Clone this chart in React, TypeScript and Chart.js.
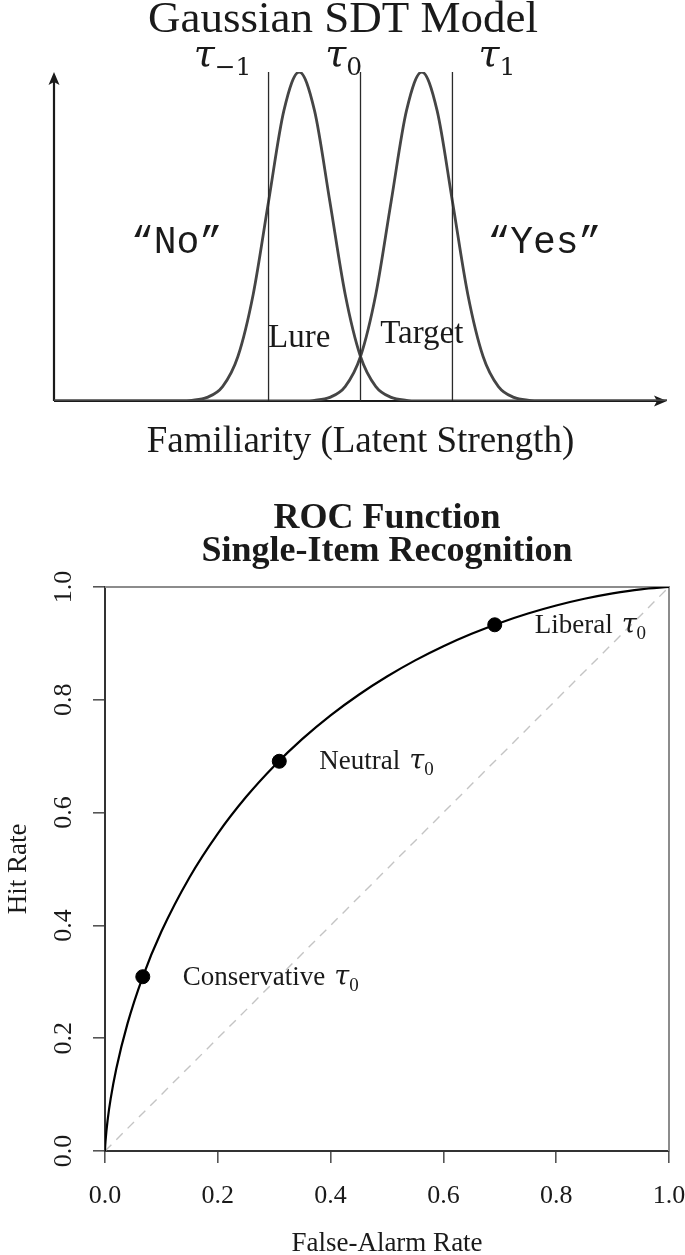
import React, { useEffect, useRef } from "react";
import { Chart, registerables } from "chart.js";

Chart.register(...registerables);

const SERIF = '"Liberation Serif", "Times New Roman", serif';
const GREEK = '"DejaVu Serif", "Liberation Serif", serif';
const MONO = '"Liberation Mono", "DejaVu Sans Mono", monospace';
const INK = "#1a1a1a";

// ---------------- Top panel: Gaussian SDT model ----------------
const sdtTitle = "Gaussian SDT Model";
const sdtXLabel = "Familiarity (Latent Strength)";
const familiarity = [
  -8, -7.5, -7, -6.5, -6, -5.5, -5, -4.5, -4, -3.5, -3, -2.5, -2, -1.5, -1, -0.5,
  0, 0.5, 1, 1.5, 2, 2.5, 3, 3.5, 4, 4.5, 5, 5.5, 6, 6.5, 7, 7.5, 8, 8.5, 9, 9.5,
  10, 10.5, 11, 11.5, 12,
];
const lureDensity = [
  0, 0, 0, 0, 0, 0, 0, 0, 0.0003, 0.0022, 0.0111, 0.0439, 0.1353, 0.3247, 0.6065, 0.8825,
  1, 0.8825, 0.6065, 0.3247, 0.1353, 0.0439, 0.0111, 0.0022, 0.0003, 0, 0, 0, 0, 0, 0, 0,
  0, 0, 0, 0, 0, 0, 0, 0, 0,
];
const targetDensity = [
  0, 0, 0, 0, 0, 0, 0, 0, 0, 0, 0, 0, 0, 0, 0, 0,
  0.0003, 0.0022, 0.0111, 0.0439, 0.1353, 0.3247, 0.6065, 0.8825, 1, 0.8825, 0.6065, 0.3247,
  0.1353, 0.0439, 0.0111, 0.0022, 0.0003, 0, 0, 0, 0, 0, 0, 0, 0,
];
const criteria = [-1, 2, 5];
const criterionSubscripts = ["\u22121", "0", "1"];
const criterionLabelX = [-2.5, 1.45, 6.45];
const responseLabels = ["\u201CNo\u201D", "\u201CYes\u201D"];
const responseLabelX = [-4, 8];
const distributionLabels = ["Lure", "Target"];
const distributionLabelX = [0, 4];

// ---------------- Bottom panel: ROC function ----------------
const rocTitle = ["ROC Function", "Single-Item Recognition"];
const rocXLabel = "False-Alarm Rate";
const rocYLabel = "Hit Rate";
const rocFalseAlarm = [
  0, 0.0001, 0.001, 0.005, 0.01, 0.02, 0.04, 0.0668, 0.1, 0.15, 0.2, 0.25, 0.3, 0.35,
  0.4, 0.45, 0.5, 0.55, 0.6, 0.65, 0.7, 0.75, 0.8, 0.85, 0.9, 0.95, 1,
];
const rocHit = [
  0, 0.0033, 0.0183, 0.0575, 0.0924, 0.146, 0.2263, 0.3085, 0.3891, 0.4855, 0.5629, 0.6276,
  0.6828, 0.7306, 0.7724, 0.809, 0.8413, 0.8699, 0.895, 0.917, 0.9363, 0.953, 0.9672,
  0.9791, 0.9887, 0.9959, 1,
];
const criterionFA = [0.067, 0.309, 0.691];
const criterionHit = [0.309, 0.691, 0.933];
const criterionNames = ["Conservative", "Neutral", "Liberal"];
const axisTicks = [0, 0.2, 0.4, 0.6, 0.8, 1.0];
const chanceLine = [0, 1];

type TauStyle = { size: number; tauSize: number; subSize: number; subFont: string; drop: number; gap: number };

function drawTau(ctx: CanvasRenderingContext2D, prefix: string, sub: string, x: number, base: number,
  st: TauStyle, measureOnly = false): number {
  let cx = x;
  if (prefix) {
    ctx.font = `${st.size}px ${SERIF}`;
    if (!measureOnly) ctx.fillText(prefix, cx, base);
    cx += ctx.measureText(prefix).width + st.gap;
  }
  ctx.font = `italic ${st.tauSize}px ${GREEK}`;
  if (!measureOnly) ctx.fillText("\u03C4", cx, base);
  cx += ctx.measureText("\u03C4").width;
  ctx.font = `${st.subSize}px ${st.subFont}`;
  if (!measureOnly) ctx.fillText(sub, cx, base + st.drop);
  cx += ctx.measureText(sub).width;
  return cx - x;
}

const topTau: TauStyle = { size: 38, tauSize: 38, subSize: 25, subFont: GREEK, drop: 9, gap: 0 };
const rocTau: TauStyle = { size: 27, tauSize: 27, subSize: 19, subFont: SERIF, drop: 6, gap: 9 };

const sdtDecor = {
  id: "sdtDecor",
  beforeDatasetsDraw(chart: any) {
    const { ctx, scales } = chart;
    const xs = scales.x, ys = scales.y;
    const x0 = xs.getPixelForValue(familiarity[0]);
    const x1 = xs.getPixelForValue(familiarity[familiarity.length - 1]);
    const y0 = ys.getPixelForValue(0);
    const y1 = ys.getPixelForValue(1);
    ctx.save();
    ctx.strokeStyle = INK;
    ctx.fillStyle = INK;
    ctx.lineWidth = 2.2;
    ctx.beginPath();
    ctx.moveTo(x0, y0);
    ctx.lineTo(x1 - 6, y0);
    ctx.moveTo(x0, y0);
    ctx.lineTo(x0, y1 + 6);
    ctx.stroke();
    ctx.beginPath();
    ctx.moveTo(x1, y0);
    ctx.lineTo(x1 - 13, y0 - 5.5);
    ctx.lineTo(x1 - 10, y0);
    ctx.lineTo(x1 - 13, y0 + 5.5);
    ctx.closePath();
    ctx.fill();
    ctx.beginPath();
    ctx.moveTo(x0, y1);
    ctx.lineTo(x0 - 5.5, y1 + 13);
    ctx.lineTo(x0, y1 + 10);
    ctx.lineTo(x0 + 5.5, y1 + 13);
    ctx.closePath();
    ctx.fill();
    ctx.restore();
  },
  afterDraw(chart: any) {
    const { ctx, scales } = chart;
    const xs = scales.x, ys = scales.y;
    ctx.save();
    ctx.fillStyle = INK;
    ctx.textBaseline = "alphabetic";
    ctx.textAlign = "center";
    ctx.font = `45px ${SERIF}`;
    ctx.fillText(sdtTitle, 343, 32);
    ctx.textAlign = "left";
    criteria.forEach((_, i) => {
      const w = drawTau(ctx, "", criterionSubscripts[i], 0, 0, topTau, true);
      const cx = xs.getPixelForValue(criterionLabelX[i]);
      drawTau(ctx, "", criterionSubscripts[i], cx - w / 2, 66, topTau);
    });
    ctx.textAlign = "center";
    ctx.font = `38px ${MONO}`;
    responseLabels.forEach((t, i) => {
      ctx.fillText(t, xs.getPixelForValue(responseLabelX[i]), ys.getPixelForValue(0.45));
    });
    ctx.font = `33px ${SERIF}`;
    distributionLabels.forEach((t, i) => {
      ctx.fillText(t, xs.getPixelForValue(distributionLabelX[i]), ys.getPixelForValue(i === 0 ? 0.165 : 0.177));
    });
    ctx.font = `37px ${SERIF}`;
    ctx.fillText(sdtXLabel, xs.getPixelForValue(2), 452);
    ctx.restore();
  },
};

const rocDecor = {
  id: "rocDecor",
  beforeDatasetsDraw(chart: any) {
    const { ctx, chartArea: a } = chart;
    ctx.save();
    ctx.strokeStyle = "#8c8c8c";
    ctx.lineWidth = 2;
    ctx.beginPath();
    ctx.moveTo(a.left, a.top);
    ctx.lineTo(a.right, a.top);
    ctx.lineTo(a.right, a.bottom);
    ctx.stroke();
    ctx.restore();
  },
  afterDraw(chart: any) {
    const { ctx, chartArea: a, scales } = chart;
    const xs = scales.x, ys = scales.y;
    const cx = (a.left + a.right) / 2;
    const cy = (a.top + a.bottom) / 2;
    ctx.save();
    ctx.fillStyle = INK;
    ctx.textBaseline = "alphabetic";
    ctx.textAlign = "center";
    ctx.font = `bold 36px ${SERIF}`;
    ctx.fillText(rocTitle[0], cx, 58);
    ctx.fillText(rocTitle[1], cx, 91);
    ctx.font = `26px ${SERIF}`;
    axisTicks.forEach((v) => {
      ctx.fillText(v.toFixed(1), xs.getPixelForValue(v), 733);
    });
    ctx.font = `27px ${SERIF}`;
    ctx.fillText(rocXLabel, cx, 781);
    ctx.font = `26px ${SERIF}`;
    axisTicks.forEach((v) => {
      ctx.save();
      ctx.translate(71, ys.getPixelForValue(v));
      ctx.rotate(-Math.PI / 2);
      ctx.fillText(v.toFixed(1), 0, 0);
      ctx.restore();
    });
    ctx.font = `27px ${SERIF}`;
    ctx.save();
    ctx.translate(26, cy);
    ctx.rotate(-Math.PI / 2);
    ctx.fillText(rocYLabel, 0, 0);
    ctx.restore();
    ctx.textAlign = "left";
    criterionNames.forEach((n, i) => {
      const px = xs.getPixelForValue(criterionFA[i]);
      const py = ys.getPixelForValue(criterionHit[i]);
      drawTau(ctx, n, "0", px + 40, py + 8, rocTau);
    });
    ctx.restore();
  },
};

export default function App() {
  const topRef = useRef<HTMLCanvasElement>(null);
  const botRef = useRef<HTMLCanvasElement>(null);

  useEffect(() => {
    const curve = (ys: number[]) => familiarity.map((x, i) => ({ x, y: ys[i] }));
    const vline = (c: number) => [{ x: c, y: 0 }, { x: c, y: 1 }];
    const top = new Chart(topRef.current as HTMLCanvasElement, {
      type: "line",
      data: {
        datasets: [
          ...criteria.map((c) => ({
            data: vline(c), borderColor: "#2a2a2a", borderWidth: 1.3, pointRadius: 0, fill: false,
          })),
          { data: curve(lureDensity), borderColor: "#454545", borderWidth: 2.8, pointRadius: 0, fill: false, cubicInterpolationMode: "monotone" },
          { data: curve(targetDensity), borderColor: "#454545", borderWidth: 2.8, pointRadius: 0, fill: false, cubicInterpolationMode: "monotone" },
        ] as any,
      },
      options: {
        responsive: false,
        animation: false,
        devicePixelRatio: 1,
        events: [],
        layout: { padding: { left: 54, right: 18, top: 72, bottom: 69 } },
        plugins: { legend: { display: false }, tooltip: { enabled: false }, title: { display: false } },
        scales: {
          x: { type: "linear", min: familiarity[0], max: familiarity[familiarity.length - 1], display: false },
          y: { type: "linear", min: 0, max: 1, display: false },
        },
      },
      plugins: [sdtDecor],
    });

    const bot = new Chart(botRef.current as HTMLCanvasElement, {
      type: "scatter",
      data: {
        datasets: [
          {
            data: criterionFA.map((x, i) => ({ x, y: criterionHit[i] })),
            pointRadius: 7, pointBackgroundColor: "#000", pointBorderColor: "#000", showLine: false,
          },
          {
            data: rocFalseAlarm.map((x, i) => ({ x, y: rocHit[i] })),
            showLine: true, borderColor: "#000", borderWidth: 2.2, pointRadius: 0, cubicInterpolationMode: "monotone",
          },
          {
            data: chanceLine.map((v) => ({ x: v, y: v })),
            showLine: true, borderColor: "#c4c4c4", borderWidth: 1.4, borderDash: [9, 7], pointRadius: 0,
          },
        ] as any,
      },
      options: {
        responsive: false,
        animation: false,
        devicePixelRatio: 1,
        events: [],
        layout: { padding: { left: 0, right: 16, top: 117, bottom: 0 } },
        plugins: { legend: { display: false }, tooltip: { enabled: false }, title: { display: false } },
        scales: {
          x: {
            type: "linear", min: 0, max: 1,
            afterBuildTicks: (s: any) => { s.ticks = axisTicks.map((v) => ({ value: v })); },
            ticks: { display: false },
            grid: { drawOnChartArea: false, drawTicks: true, tickLength: 12, color: "#555", lineWidth: 1.6 },
            border: { display: true, color: "#333", width: 2 },
            afterFit: (s: any) => { s.height = 104; },
          },
          y: {
            type: "linear", min: 0, max: 1,
            afterBuildTicks: (s: any) => { s.ticks = axisTicks.map((v) => ({ value: v })); },
            ticks: { display: false },
            grid: { drawOnChartArea: false, drawTicks: true, tickLength: 12, color: "#555", lineWidth: 1.6 },
            border: { display: true, color: "#333", width: 2 },
            afterFit: (s: any) => { s.width = 105; },
          },
        },
      } as any,
      plugins: [rocDecor],
    });
    return () => {
      top.destroy();
      bot.destroy();
    };
  }, []);

  return (
    <div style={{ position: "absolute", left: 0, top: 0, width: 685, height: 1255, background: "#fff" }}>
      <canvas ref={topRef} width={685} height={470} style={{ display: "block", width: 685, height: 470 }} />
      <canvas ref={botRef} width={685} height={785} style={{ display: "block", width: 685, height: 785 }} />
    </div>
  );
}
